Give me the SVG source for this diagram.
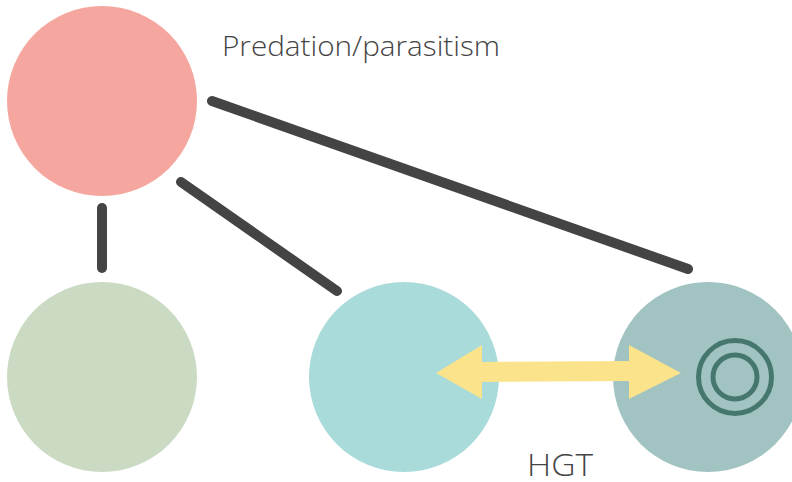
<svg xmlns="http://www.w3.org/2000/svg" width="792" height="482" viewBox="0 0 792 482">
<style>
.lbl{font-family:"Open Sans","Liberation Sans",sans-serif;font-weight:300;fill:#444}
.edge{stroke:#444;stroke-width:10;stroke-linecap:round;fill:none}
.ring{fill:none;stroke:#46776f;stroke-width:5}
</style>
<rect width="792" height="482" fill="#fff"/>
<g id="pred"><circle cx="102" cy="101" r="95" fill="#f5a79f"/></g>
<g id="green"><circle cx="102" cy="377" r="95" fill="#cbdbc3"/></g>
<g id="teal"><circle cx="404" cy="377" r="95" fill="#a8dbd9"/></g>
<g id="host"><circle cx="708" cy="377" r="95" fill="#a1c3c2"/>
<circle class="ring" cx="735" cy="377" r="36.5"/>
<circle class="ring" cx="735" cy="377" r="22"/></g>
<g id="connectors">
<line class="edge" x1="102" y1="208" x2="102" y2="268"/>
<line class="edge" x1="181" y1="182" x2="337" y2="291"/>
<line class="edge" x1="212" y1="101" x2="688" y2="269"/>
<polygon id="hgt" fill="#fbe38c" points="436,373 482,345 482,362 629,361 629,345 681,373 629,399 629,381 482,382 482,399"/>
</g>
<text class="lbl" x="222" y="56" font-size="28" textLength="278" lengthAdjust="spacingAndGlyphs">Predation/parasitism</text>
<text class="lbl" x="527" y="476" font-size="32" textLength="66" lengthAdjust="spacingAndGlyphs">HGT</text>
</svg>
